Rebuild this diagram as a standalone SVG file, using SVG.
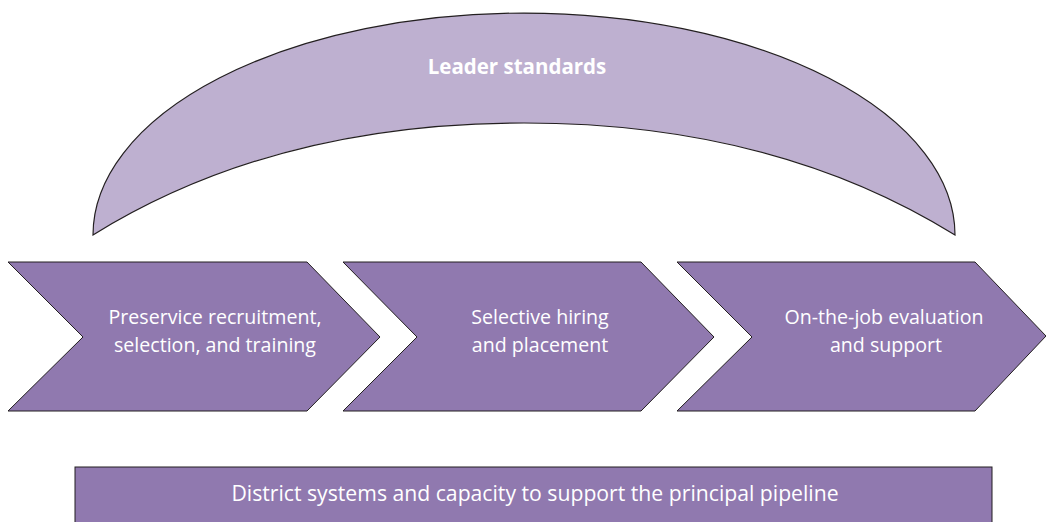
<svg xmlns="http://www.w3.org/2000/svg" width="1046" height="522" viewBox="0 0 1046 522">
<style>
.chev{fill:#9079AF;stroke:#231F20;stroke-width:1}
.arc{fill:#BEB0D0;stroke:#231F20;stroke-width:1.2}
.t{font-family:"Open Sans","Liberation Sans",sans-serif;fill:#FFFFFF;text-anchor:middle;font-size:19.6px}
.b{font-weight:bold;font-size:20.5px}
</style>
<rect width="1046" height="522" fill="#FFFFFF"/>
<g id="leader-standards">
<path class="arc" d="M93,235 A431,222 0 0 1 955,235 C818,150 668,123 524,123 C380,123 230,150 93,235 Z"/>
<text class="t b" x="517" y="74">Leader standards</text>
</g>
<g id="preservice">
<polygon class="chev" points="8,262 307,262 380,337 307,411 8,411 83,337"/>
<text class="t" x="215" y="324">Preservice recruitment,</text>
<text class="t" x="215" y="351.5">selection, and training</text>
</g>
<g id="hiring">
<polygon class="chev" points="343,262 641,262 714,337 641,411 343,411 417,337"/>
<text class="t" x="540" y="324">Selective hiring</text>
<text class="t" x="540" y="351.5">and placement</text>
</g>
<g id="evaluation">
<polygon class="chev" points="677,262 975,262 1046,336 975,411 677,411 752,337"/>
<text class="t" x="884" y="324">On-the-job evaluation</text>
<text class="t" x="886" y="351.5">and support</text>
</g>
<g id="district">
<rect class="chev" x="75" y="467" width="917" height="60"/>
<text class="t" x="535" y="501" style="font-size:21.2px">District systems and capacity to support the principal pipeline</text>
</g>
<g id="connectors"/>
</svg>
